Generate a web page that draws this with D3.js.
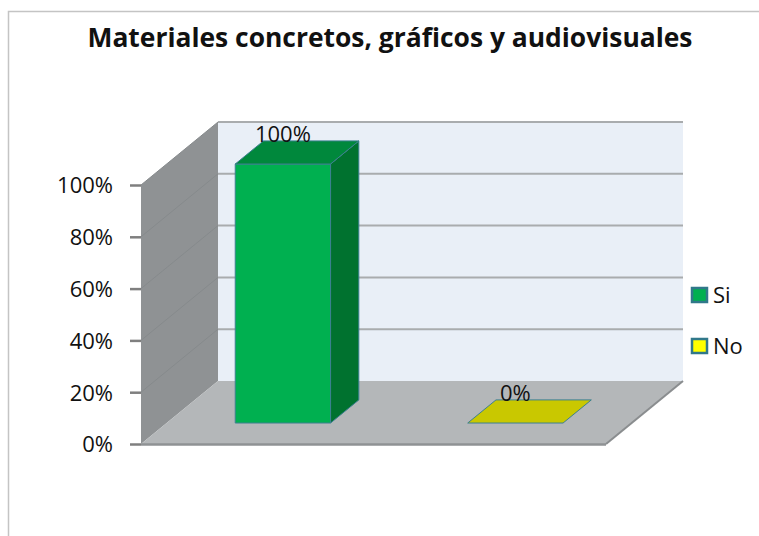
<!DOCTYPE html>
<html>
<head>
<meta charset="utf-8">
<script src="https://cdn.jsdelivr.net/npm/d3@7"></script>
<style>
  body { margin: 0; background: #fff; }
  svg text { font-family: "Open Sans", "Liberation Sans", sans-serif; fill: #111; }
</style>
</head>
<body>
<svg></svg>
<script>
const width = 759;
const height = 536;

const title = "Materiales concretos, gráficos y audiovisuales";
const categories = ["Si", "No"];
const values = [1.0, 0.0];
const labels = ["100%", "0%"];
const tickValues = [0, 0.2, 0.4, 0.6, 0.8, 1.0];

const colors = {
    Si: { front: "#00b050", side: "#00722f", top: "#00883c", legend: "#00b050" },
    No: { front: "#c9c800", side: "#9a9a00", top: "#c9c800", legend: "#ffff00" }
};

// 3D depth offset of the plot box (front plane -> back plane)
const depthX = 77;
const depthY = -63;
// bars sit between these depth fractions
const d0 = 0.333;
const d1 = 0.70;

const front = { left: 141, right: 606, top: 185, bottom: 444 };

const svg = d3.select("svg")
    .attr("width", width)
    .attr("height", height);

// chart border
svg.append("rect")
    .attr("x", 8.5)
    .attr("y", 11.5)
    .attr("width", 780)
    .attr("height", 560)
    .attr("fill", "#fff")
    .attr("stroke", "#c4c4c4")
    .attr("stroke-width", 1.5);

const x = d3.scaleBand()
    .domain(categories)
    .range([front.left, front.right])
    .paddingInner(0.59)
    .paddingOuter(0.295);

const y = d3.scaleLinear()
    .domain([0, 1])
    .range([front.bottom, front.top]);

// project a front-plane point to a given depth
const p = (px, py, d) => [px + d * depthX, py + d * depthY];
const poly = pts => "M" + pts.map(q => q.join(",")).join("L") + "Z";

const box = svg.append("g");

// back wall
box.append("path")
    .attr("d", poly([
        p(front.left, y(0), 1), p(front.right, y(0), 1),
        p(front.right, y(1), 1), p(front.left, y(1), 1)
    ]))
    .attr("fill", "#e9eff7");

// left wall
box.append("path")
    .attr("d", poly([
        p(front.left, y(0), 0), p(front.left, y(0), 1),
        p(front.left, y(1), 1), p(front.left, y(1), 0)
    ]))
    .attr("fill", "#8f9294");

// floor
box.append("path")
    .attr("d", poly([
        p(front.left, y(0), 0), p(front.right, y(0), 0),
        p(front.right, y(0), 1), p(front.left, y(0), 1)
    ]))
    .attr("fill", "#b4b7b9");

// gridlines on back wall and left wall
tickValues.forEach(v => {
    const a = p(front.left, y(v), 1);
    const b = p(front.right, y(v), 1);
    const c = p(front.left, y(v), 0);
    if (v > 0) {
        box.append("line")
            .attr("x1", a[0]).attr("y1", a[1])
            .attr("x2", b[0]).attr("y2", b[1])
            .attr("stroke", "#a9acae")
            .attr("stroke-width", 2);
        box.append("line")
            .attr("x1", c[0]).attr("y1", c[1])
            .attr("x2", a[0]).attr("y2", a[1])
            .attr("stroke", "#868a8c")
            .attr("stroke-width", 1);
    }
});

// floor edges
const fr0 = p(front.right, y(0), 0), fr1 = p(front.right, y(0), 1);
box.append("line")
    .attr("x1", fr0[0]).attr("y1", fr0[1])
    .attr("x2", fr1[0]).attr("y2", fr1[1])
    .attr("stroke", "#8a8d8f")
    .attr("stroke-width", 2);
box.append("line")
    .attr("x1", front.left).attr("y1", y(0) + 0.5)
    .attr("x2", front.right).attr("y2", y(0) + 0.5)
    .attr("stroke", "#8f9294")
    .attr("stroke-width", 2.5);

// axis
const axis = svg.append("g")
    .attr("transform", `translate(${front.left},0)`)
    .call(d3.axisLeft(y)
        .tickValues(tickValues)
        .tickFormat(d3.format(".0%"))
        .tickSize(11)
        .tickPadding(17));
axis.select(".domain").remove();
axis.selectAll(".tick line")
    .attr("stroke", "#7f7f7f")
    .attr("stroke-width", 2.5);
axis.selectAll(".tick text")
    .attr("font-size", 22)
    .attr("font-family", "'Open Sans', sans-serif")
    .attr("fill", "#111")
    .attr("dy", "0.36em");

// bars
const bars = svg.append("g");
categories.forEach((cat, i) => {
    const c = colors[cat];
    const x0 = x(cat), x1 = x(cat) + x.bandwidth();
    const yb = y(0), yt = y(values[i]);
    const stroke = "#3c8090";
    if (values[i] > 0) {
        // right side
        bars.append("path")
            .attr("d", poly([p(x1, yb, d0), p(x1, yb, d1), p(x1, yt, d1), p(x1, yt, d0)]))
            .attr("fill", c.side).attr("stroke", stroke).attr("stroke-width", 1);
        // front
        bars.append("path")
            .attr("d", poly([p(x0, yb, d0), p(x1, yb, d0), p(x1, yt, d0), p(x0, yt, d0)]))
            .attr("fill", c.front).attr("stroke", stroke).attr("stroke-width", 1);
    }
    // top
    bars.append("path")
        .attr("d", poly([p(x0, yt, d0), p(x1, yt, d0), p(x1, yt, d1), p(x0, yt, d1)]))
        .attr("fill", c.top).attr("stroke", stroke).attr("stroke-width", 1);

    const lp = p(x0 + x.bandwidth() / 2, yt, d0);
    bars.append("text")
        .attr("x", lp[0])
        .attr("y", lp[1] - 22)
        .attr("text-anchor", "middle")
        .attr("font-size", 22)
        .text(labels[i]);
});

// legend
const legend = svg.append("g")
    .attr("transform", "translate(691,287)");
categories.forEach((cat, i) => {
    const g = legend.append("g").attr("transform", `translate(0,${i * 51})`);
    g.append("rect")
        .attr("x", 1).attr("y", 1)
        .attr("width", 15).attr("height", 14)
        .attr("fill", colors[cat].legend)
        .attr("stroke", "#31788a")
        .attr("stroke-width", 2.5);
    g.append("text")
        .attr("x", 22)
        .attr("y", 8)
        .attr("dy", "0.36em")
        .attr("font-size", 22)
        .text(cat);
});

// title
svg.append("text")
    .attr("x", 390)
    .attr("y", 47)
    .attr("text-anchor", "middle")
    .attr("font-size", 27)
    .attr("font-weight", "bold")
    .attr("textLength", 605)
    .attr("lengthAdjust", "spacingAndGlyphs")
    .text(title);
</script>
</body>
</html>
